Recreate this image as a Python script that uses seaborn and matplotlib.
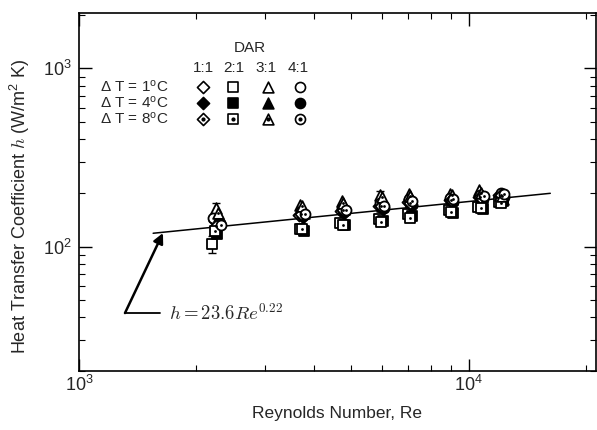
import numpy as np
import pandas as pd
import matplotlib
matplotlib.use("Agg")
import matplotlib.pyplot as plt
import seaborn as sns
from matplotlib.ticker import FixedLocator, FuncFormatter, NullFormatter

# Measured heat transfer coefficients h (W/m^2 K) versus Reynolds number,
# one series per depth aspect ratio (DAR) and temperature difference.
# DAR 1:1 (diamonds)
re_d1 = [2230, 3680, 4700, 5900, 7000, 8950, 10600, 12000]
h_d1 = [140, 150, 158, 168, 178, 183, 190, 195]
re_d4 = [2280, 3760, 4800, 6020, 7120, 9080, 10850, 12250]
h_d4 = [133, 147, 155, 162, 172, 178, 185, 190]
re_d8 = [2250, 3720, 4750, 5960, 7060, 9020, 10720, 12120]
h_d8 = [130, 152, 160, 170, 176, 182, 190, 196]
# DAR 2:1 (squares)
re_s1 = [2200, 3700, 4680, 5880, 6980, 8900, 10550, 11950]
h_s1 = [103, 126, 135, 143, 153, 160, 166, 178]
err_s1 = [11, 0, 0, 0, 0, 0, 0, 0]
re_s4 = [2260, 3780, 4820, 6040, 7140, 9100, 10880, 12280]
h_s4 = [118, 122, 133, 140, 148, 155, 163, 180]
re_s8 = [2240, 3730, 4760, 5970, 7070, 9030, 10740, 12130]
h_s8 = [122, 125, 132, 138, 145, 157, 165, 176]
# DAR 3:1 (triangles)
re_t1 = [2250, 3690, 4720, 5920, 7010, 8960, 10650, 12050]
h_t1 = [165, 172, 180, 195, 198, 198, 208, 195]
err_t1 = [10, 0, 0, 9, 0, 0, 0, 0]
re_t4 = [2290, 3770, 4790, 6010, 7110, 9070, 10820, 12230]
h_t4 = [148, 155, 163, 170, 178, 185, 190, 185]
re_t8 = [2270, 3740, 4770, 5980, 7080, 9040, 10760, 12150]
h_t8 = [155, 168, 176, 190, 192, 195, 200, 192]
# DAR 4:1 (circles)
re_c1 = [2210, 3710, 4730, 5930, 7030, 8980, 10680, 12080]
h_c1 = [144, 158, 165, 176, 185, 188, 194, 200]
re_c4 = [2300, 3790, 4830, 6050, 7150, 9110, 10900, 12300]
h_c4 = [135, 150, 158, 165, 172, 178, 186, 190]
re_c8 = [2310, 3800, 4840, 6060, 7160, 9120, 10920, 12320]
h_c8 = [133, 152, 160, 170, 180, 186, 192, 198]

# Correlation h = C * Re^n
fit_c = 23.6
fit_n = 0.22
fit_re_range = [1550, 16200]

dar_labels = ["1:1", "2:1", "3:1", "4:1"]
dt_labels = ["1", "4", "8"]
dar_markers = {"1:1": "D", "2:1": "s", "3:1": "^", "4:1": "o"}
dar_sizes = {"1:1": 38, "2:1": 42, "3:1": 60, "4:1": 52}

series = {
    ("1:1", "1"): (re_d1, h_d1), ("1:1", "4"): (re_d4, h_d4), ("1:1", "8"): (re_d8, h_d8),
    ("2:1", "1"): (re_s1, h_s1), ("2:1", "4"): (re_s4, h_s4), ("2:1", "8"): (re_s8, h_s8),
    ("3:1", "1"): (re_t1, h_t1), ("3:1", "4"): (re_t4, h_t4), ("3:1", "8"): (re_t8, h_t8),
    ("4:1", "1"): (re_c1, h_c1), ("4:1", "4"): (re_c4, h_c4), ("4:1", "8"): (re_c8, h_c8),
}
rows = []
for (dar, dt), (re_vals, h_vals) in series.items():
    for r, h in zip(re_vals, h_vals):
        rows.append({"Re": r, "h": h, "DAR": dar, "dT": dt})
df = pd.DataFrame(rows)

sns.set_theme(style="white")
plt.rcParams["font.family"] = ["Liberation Sans", "DejaVu Sans"]
plt.rcParams["mathtext.fontset"] = "cm"

fig = plt.figure(figsize=(5.97, 4.30), dpi=100)
ax = fig.add_axes([0.1323, 0.137, 0.8657, 0.833])

# error bars
for re_vals, h_vals, errs in [(re_s1, h_s1, err_s1), (re_t1, h_t1, err_t1)]:
    sel = [i for i, e in enumerate(errs) if e > 0]
    ax.errorbar([re_vals[i] for i in sel], [h_vals[i] for i in sel],
                yerr=[errs[i] for i in sel], fmt="none", ecolor="black",
                elinewidth=1.0, capsize=3, capthick=1.0, zorder=2)

# fitted correlation
fit_re = np.geomspace(fit_re_range[0], fit_re_range[1], 50)
fit_df = pd.DataFrame({"Re": fit_re, "h": fit_c * fit_re ** fit_n})
sns.lineplot(data=fit_df, x="Re", y="h", color="black", linewidth=1.1, ax=ax, zorder=3)

def draw_group(sub, dar, dt, target):
    m = dar_markers[dar]
    s = dar_sizes[dar]
    face = "black" if dt == "4" else "white"
    sns.scatterplot(data=sub, x="Re", y="h", marker=m, s=s, facecolor=face,
                    edgecolor="black", linewidth=1.3, ax=target, zorder=4)
    if dt == "8":
        sns.scatterplot(data=sub, x="Re", y="h", marker="o", s=4, color="black",
                        edgecolor="black", linewidth=0, ax=target, zorder=5)

for dt in dt_labels:
    for dar in dar_labels:
        sub = df[(df["DAR"] == dar) & (df["dT"] == dt)]
        draw_group(sub, dar, dt, ax)

ax.set_xscale("log")
ax.set_yscale("log")
ax.set_xlim(1000, 21200)
ax.set_ylim(20, 2050)

def pow_fmt(v, pos):
    e = int(round(np.log10(v)))
    return r"$\mathregular{10^{%d}}$" % e

ax.xaxis.set_major_locator(FixedLocator([1e3, 1e4]))
ax.xaxis.set_minor_locator(FixedLocator([2e3, 3e3, 4e3, 5e3, 6e3, 7e3, 8e3, 9e3, 2e4]))
ax.yaxis.set_major_locator(FixedLocator([1e2, 1e3]))
ax.yaxis.set_minor_locator(FixedLocator([20, 30, 40, 50, 60, 70, 80, 90,
                                         200, 300, 400, 500, 600, 700, 800, 900, 2000]))
ax.xaxis.set_major_formatter(FuncFormatter(pow_fmt))
ax.yaxis.set_major_formatter(FuncFormatter(pow_fmt))
ax.xaxis.set_minor_formatter(NullFormatter())
ax.yaxis.set_minor_formatter(NullFormatter())
ax.tick_params(which="both", direction="in", top=True, right=True, bottom=True, left=True,
               color="black", labelsize=13)
ax.tick_params(which="major", length=9, width=1.0)
ax.tick_params(axis="x", which="major", pad=3)
ax.tick_params(axis="y", which="major", pad=5)
ax.tick_params(which="minor", length=4.5, width=0.8)
for sp in ax.spines.values():
    sp.set_color("black")
    sp.set_linewidth(1.2)

ax.set_xlabel("Reynolds Number, Re", fontsize=12.5, labelpad=8)
ax.set_ylabel(r"Heat Transfer Coefficient $h$ (W/m$\mathregular{^2}$ K)", fontsize=13, labelpad=4)
ax.yaxis.set_label_coords(-0.09, 0.46)

# legend block
tr = ax.transAxes
def ax_xy(px, py):
    return ((px - 79) / 517.0, (371 - py) / 358.0)

ax.text(*ax_xy(250, 48), "DAR", transform=tr, ha="center", va="center", fontsize=11)
col_px = [203, 234, 266, 298]
mk_px = [203, 233, 268, 300]
row_py = [87, 103, 119]
for dar, cx in zip(dar_labels, col_px):
    ax.text(*ax_xy(cx, 68), dar, transform=tr, ha="center", va="center", fontsize=11)
for dt, ry in zip(dt_labels, row_py):
    ax.text(*ax_xy(100, ry), "Δ T = " + dt + r"$\mathregular{^o}$C", transform=tr,
            ha="left", va="center", fontsize=11)
    for dar, mx in zip(dar_labels, mk_px):
        lx, ly = ax_xy(mx, ry)
        face = "black" if dt == "4" else "white"
        ax.scatter([lx], [ly], marker=dar_markers[dar], s=dar_sizes[dar], facecolor=face,
                   edgecolor="black", linewidth=1.2, transform=tr, zorder=4, clip_on=False)
        if dt == "8":
            ax.scatter([lx], [ly], marker="o", s=4, color="black", transform=tr, zorder=5)

# correlation annotation
tail = ax_xy(125, 313)
head = ax_xy(163, 233)
ax.annotate("", xy=head, xytext=tail, xycoords=tr, textcoords=tr,
            arrowprops=dict(arrowstyle="-|>", color="black", lw=1.8, mutation_scale=15,
                            shrinkA=0, shrinkB=0))
ax.plot([tail[0], ax_xy(160, 313)[0]], [tail[1], tail[1]], color="black", lw=1.3, transform=tr)
ax.text(*ax_xy(169, 313), r"$h = 23.6 Re^{0.22}$", transform=tr, ha="left", va="center",
        fontsize=13.5)

fig.savefig("out.png", dpi=100)
